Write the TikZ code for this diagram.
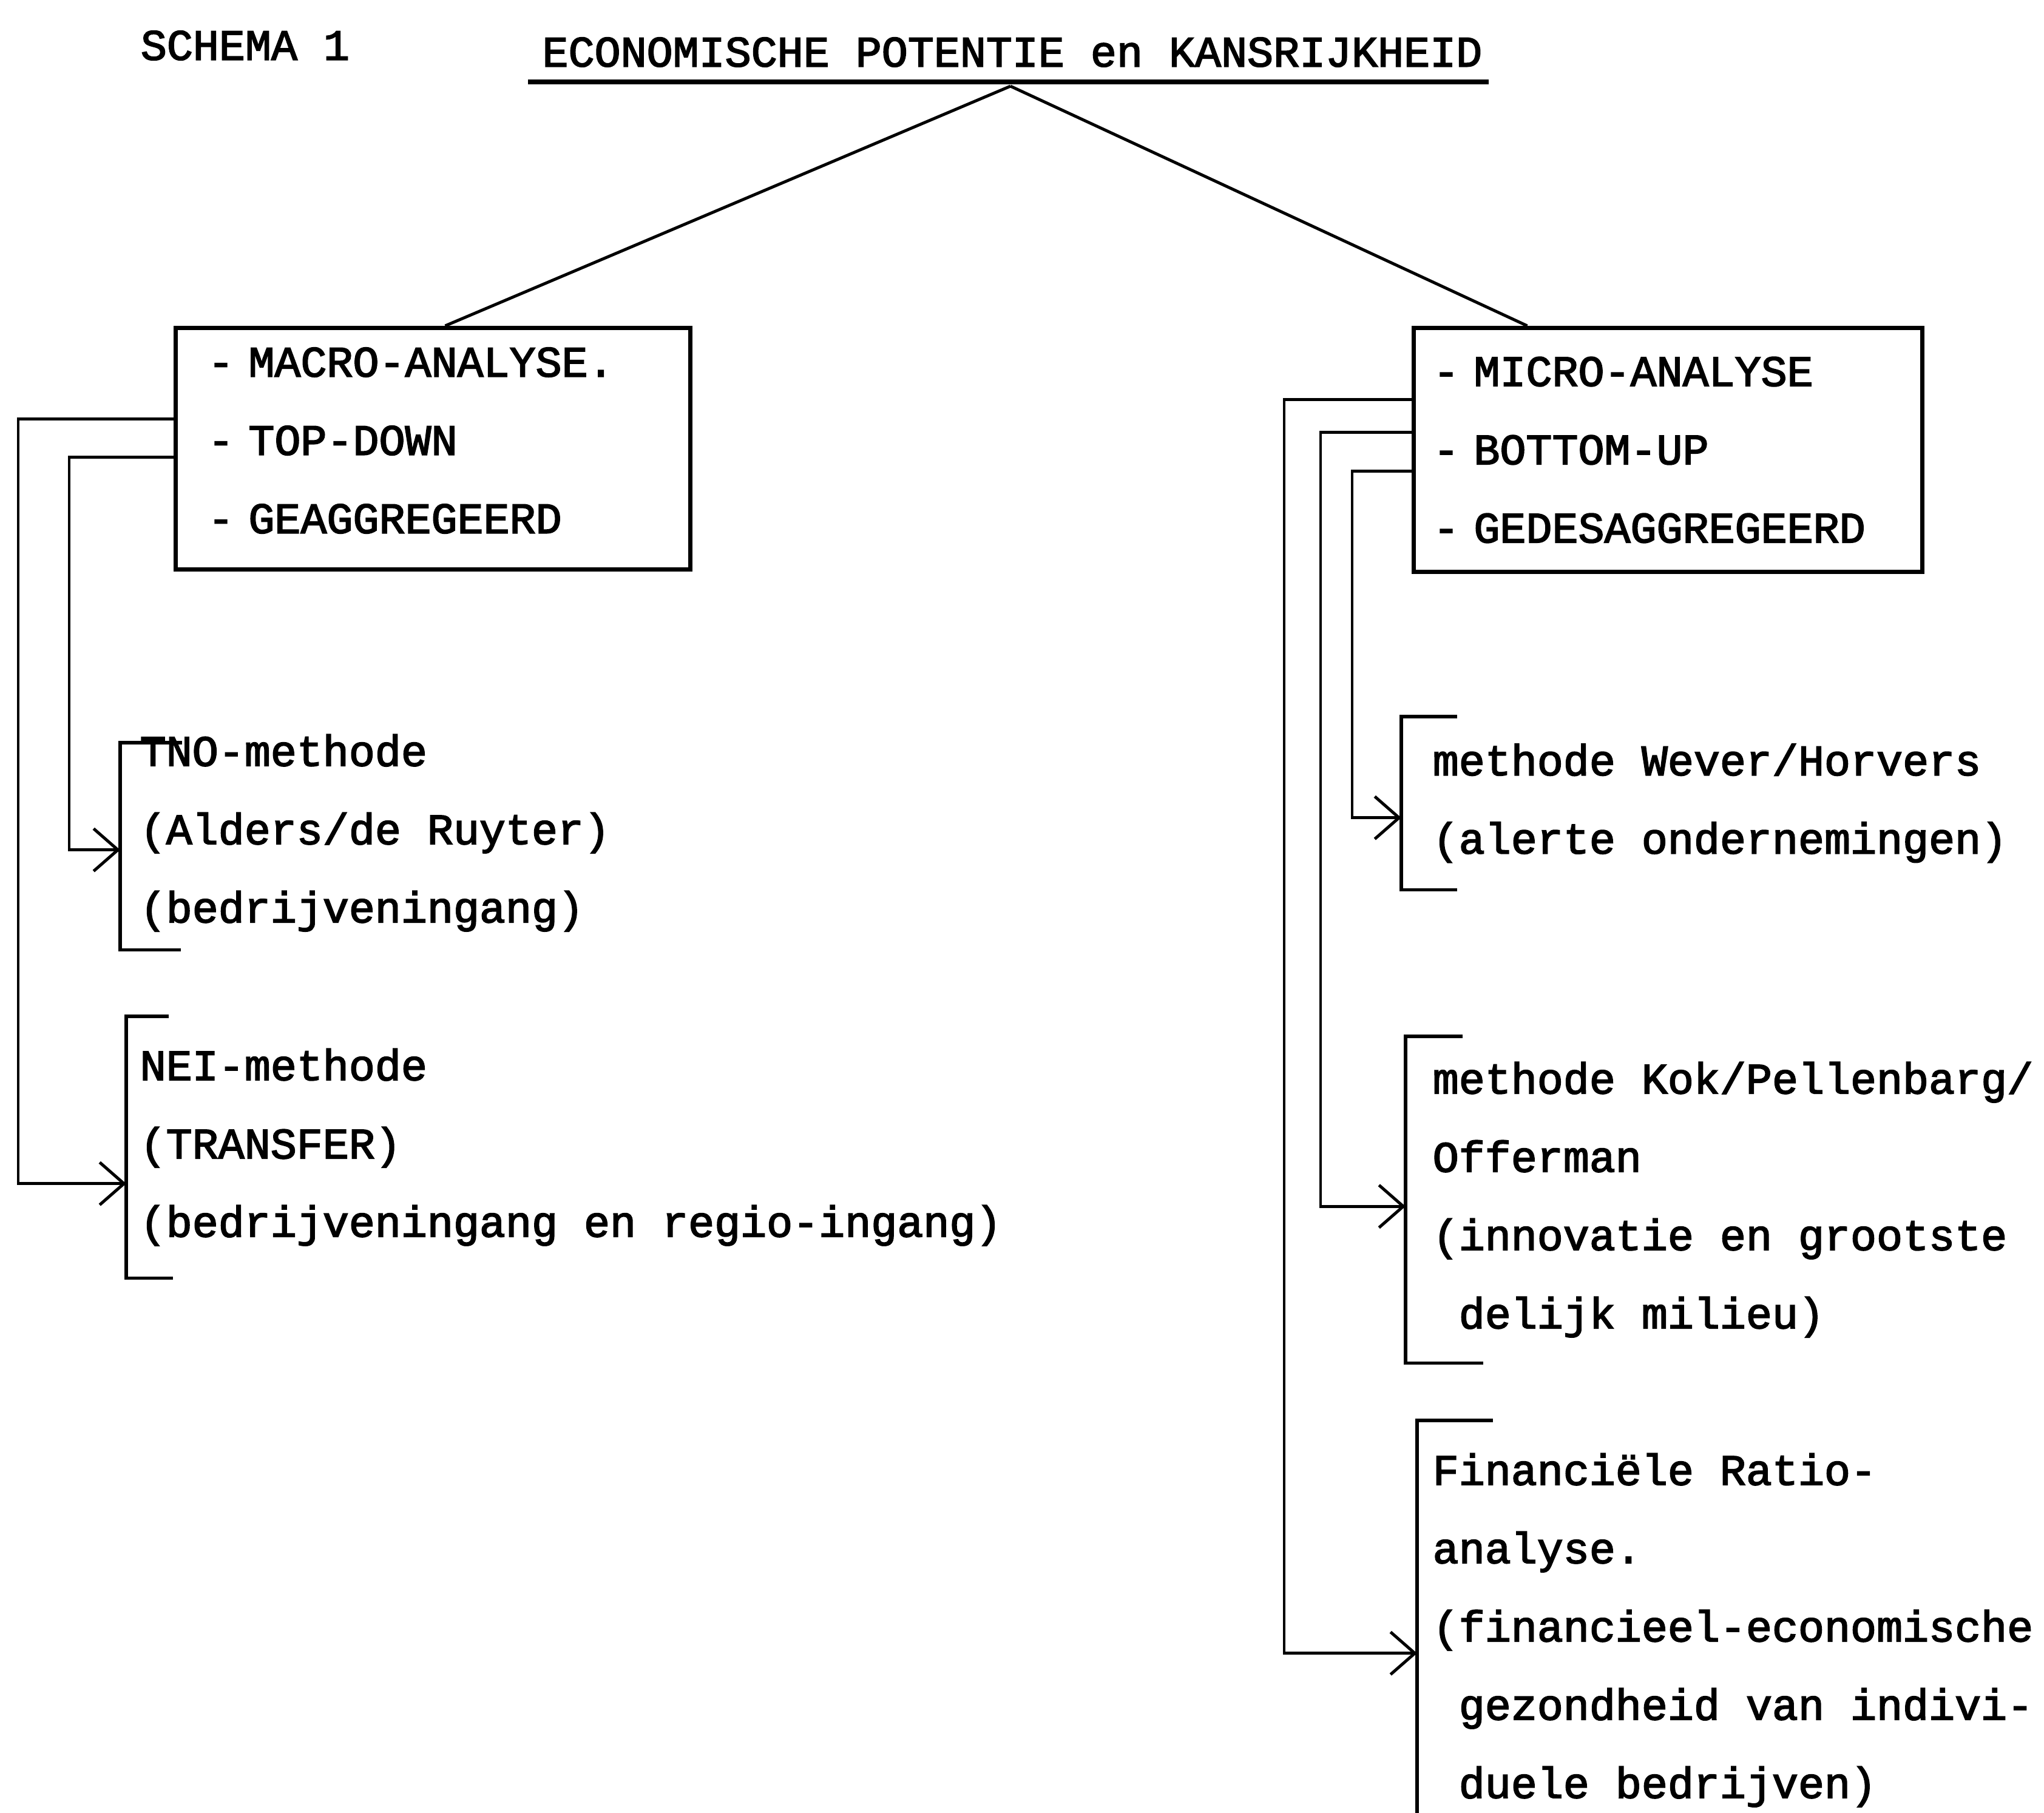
\documentclass[tikz,border=0pt]{standalone}
\usepackage{fontspec}
\setmonofont{Liberation Mono}[FakeBold=2.5]
\usetikzlibrary{arrows.meta}

\begin{document}
\begin{tikzpicture}[>={Straight Barb[length=4mm,width=7mm]},
    txt/.style={font=\ttfamily\fontsize{20.4}{36.7}\selectfont, align=left},
    box/.style={txt, draw, line width=2pt, anchor=north west, inner ysep=0pt},
    item/.style={txt, anchor=north west, inner ysep=0pt},
    link/.style={line width=1.4pt},
    bracket/.style={line width=1.6pt}]
    \useasboundingbox (0,0) rectangle (33.68,-29.88);
    % heading
    \node[txt] (schema) at (4.04,-0.75) {SCHEMA 1};
    \node[txt] (title) at (16.68,-0.86) {ECONOMISCHE POTENTIE en KANSRIJKHEID};
    \draw[line width=2.2pt] (8.70,-1.35) -- (24.53,-1.35);
    \coordinate (apex) at (16.65,-1.42);
    % the two analysis boxes
    \node[box, text width=7.42cm, inner xsep=5.3mm, minimum height=3.98cm, text height=2.1mm] (macro) at (2.86,-5.37)
        {- MACRO-ANALYSE.\\- TOP-DOWN\\- GEAGGREGEERD};
    \node[box, text width=7.74cm, inner xsep=3.2mm, minimum height=4.02cm] (micro) at (23.26,-5.37)
        {- MICRO-ANALYSE\\- BOTTOM-UP\\- GEDESAGGREGEERD};
    \draw[link] (apex) -- ([xshift=2mm]macro.north);
    \draw[link] (apex) -- ([xshift=-23.2mm]micro.north);
    % methods, macro side
    \node[item, inner xsep=3.2mm, minimum height=3.40cm, text height=2.66cm] (tno) at (1.98,-12.24)
        {TNO-methode\\(Alders/de Ruyter)\\(bedrijveningang)};
    \node[item, inner xsep=2.2mm, minimum height=4.30cm] (nei) at (2.08,-16.75)
        {NEI-methode\\(TRANSFER)\\(bedrijveningang en regio-ingang)};
    % methods, micro side
    \node[item, inner xsep=5.1mm, minimum height=2.84cm] (wever) at (23.09,-11.81)
        {methode Wever/Horvers\\(alerte ondernemingen)};
    \node[item, inner xsep=4.4mm, minimum height=5.37cm] (kok) at (23.16,-17.08)
        {methode Kok/Pellenbarg/\\Offerman\\(innovatie en grootste\\~delijk milieu)};
    \node[item, inner xsep=2.5mm, minimum height=6.90cm] (fin) at (23.35,-23.41)
        {Financiële Ratio-\\analyse.\\(financieel-economische\\~gezondheid van indivi-\\~duele bedrijven)};
    % brackets
    \draw[bracket] ([xshift=10.2mm]tno.north west) -- (tno.north west) -- (tno.south west) -- ++(1.0,0);
    \draw[bracket] ([xshift=7mm]nei.north west) -- (nei.north west) -- (nei.south west) -- ++(0.77,0);
    \draw[bracket] ([xshift=9.2mm]wever.north west) -- (wever.north west) -- (wever.south west) -- ++(0.92,0);
    \draw[bracket] ([xshift=9.4mm]kok.north west) -- (kok.north west) -- (kok.south west) -- ++(1.28,0);
    \draw[bracket] ([xshift=12.5mm]fin.north west) -- (fin.north west) -- (fin.south west);
    % connectors
    \draw[link, ->] ([yshift=-1.4mm]macro.west) -- ++(-1.72,0) |- ([yshift=-0.6mm]tno.west);
    \draw[link, ->] ([yshift=4.9mm]macro.west) -- ++(-2.56,0) |- ([yshift=-6mm]nei.west);
    \draw[link, ->] ([yshift=-3.5mm]micro.west) -- ++(-0.98,0) |- ([yshift=-2.4mm]wever.west);
    \draw[link, ->] ([yshift=2.9mm]micro.west) -- ++(-1.50,0) |- ([yshift=-1.1mm]kok.west);
    \draw[link, ->] ([yshift=8.3mm]micro.west) -- ++(-2.10,0) |- ([yshift=-3.8mm]fin.west);
\end{tikzpicture}
\end{document}
